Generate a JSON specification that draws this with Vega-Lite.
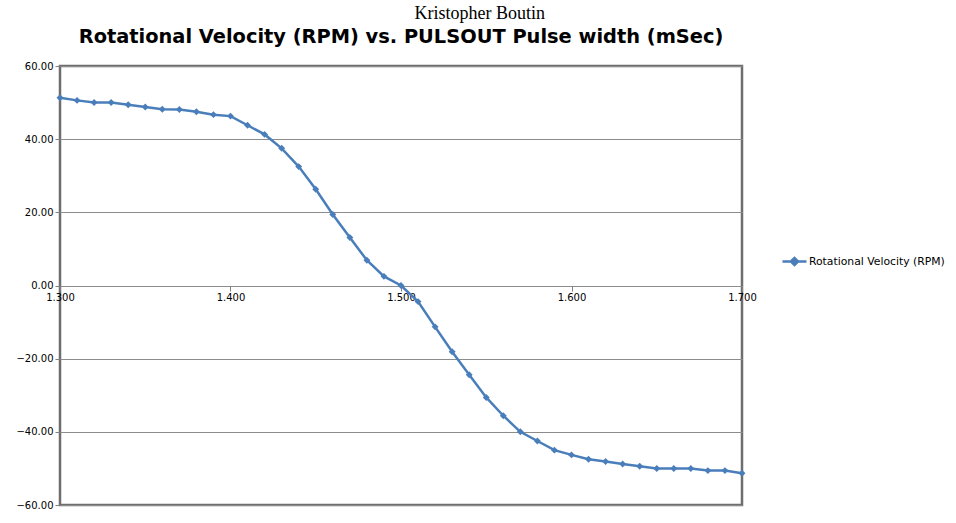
{
  "$schema": "https://vega.github.io/schema/vega-lite/v6.json",
  "background": "white",
  "padding": {"left": 14, "top": 5, "right": 5, "bottom": 5},
  "title": {"text": "Kristopher Boutin", "font": "Liberation Serif", "fontSize": 18, "fontWeight": "normal", "color": "#000000", "anchor": "middle", "frame": "bounds", "offset": 2},
  "config": {
    "view": {"stroke": "#6e6e6e", "strokeWidth": 2.5},
    "axis": {"labelFont": "DejaVu Sans", "labelFontSize": 10, "labelColor": "#000000"}
  },
  "data": {"values": [
    {"pw": 1.30, "rpm": 51.3, "s": "Rotational Velocity (RPM)"},
    {"pw": 1.31, "rpm": 50.6, "s": "Rotational Velocity (RPM)"},
    {"pw": 1.32, "rpm": 50.0, "s": "Rotational Velocity (RPM)"},
    {"pw": 1.33, "rpm": 50.0, "s": "Rotational Velocity (RPM)"},
    {"pw": 1.34, "rpm": 49.4, "s": "Rotational Velocity (RPM)"},
    {"pw": 1.35, "rpm": 48.8, "s": "Rotational Velocity (RPM)"},
    {"pw": 1.36, "rpm": 48.2, "s": "Rotational Velocity (RPM)"},
    {"pw": 1.37, "rpm": 48.1, "s": "Rotational Velocity (RPM)"},
    {"pw": 1.38, "rpm": 47.5, "s": "Rotational Velocity (RPM)"},
    {"pw": 1.39, "rpm": 46.7, "s": "Rotational Velocity (RPM)"},
    {"pw": 1.40, "rpm": 46.3, "s": "Rotational Velocity (RPM)"},
    {"pw": 1.41, "rpm": 43.8, "s": "Rotational Velocity (RPM)"},
    {"pw": 1.42, "rpm": 41.3, "s": "Rotational Velocity (RPM)"},
    {"pw": 1.43, "rpm": 37.5, "s": "Rotational Velocity (RPM)"},
    {"pw": 1.44, "rpm": 32.5, "s": "Rotational Velocity (RPM)"},
    {"pw": 1.45, "rpm": 26.3, "s": "Rotational Velocity (RPM)"},
    {"pw": 1.46, "rpm": 19.4, "s": "Rotational Velocity (RPM)"},
    {"pw": 1.47, "rpm": 13.1, "s": "Rotational Velocity (RPM)"},
    {"pw": 1.48, "rpm": 6.9, "s": "Rotational Velocity (RPM)"},
    {"pw": 1.49, "rpm": 2.5, "s": "Rotational Velocity (RPM)"},
    {"pw": 1.50, "rpm": 0.0, "s": "Rotational Velocity (RPM)"},
    {"pw": 1.51, "rpm": -4.4, "s": "Rotational Velocity (RPM)"},
    {"pw": 1.52, "rpm": -11.3, "s": "Rotational Velocity (RPM)"},
    {"pw": 1.53, "rpm": -18.1, "s": "Rotational Velocity (RPM)"},
    {"pw": 1.54, "rpm": -24.4, "s": "Rotational Velocity (RPM)"},
    {"pw": 1.55, "rpm": -30.6, "s": "Rotational Velocity (RPM)"},
    {"pw": 1.56, "rpm": -35.6, "s": "Rotational Velocity (RPM)"},
    {"pw": 1.57, "rpm": -40.0, "s": "Rotational Velocity (RPM)"},
    {"pw": 1.58, "rpm": -42.5, "s": "Rotational Velocity (RPM)"},
    {"pw": 1.59, "rpm": -45.0, "s": "Rotational Velocity (RPM)"},
    {"pw": 1.60, "rpm": -46.3, "s": "Rotational Velocity (RPM)"},
    {"pw": 1.61, "rpm": -47.5, "s": "Rotational Velocity (RPM)"},
    {"pw": 1.62, "rpm": -48.1, "s": "Rotational Velocity (RPM)"},
    {"pw": 1.63, "rpm": -48.8, "s": "Rotational Velocity (RPM)"},
    {"pw": 1.64, "rpm": -49.4, "s": "Rotational Velocity (RPM)"},
    {"pw": 1.65, "rpm": -50.0, "s": "Rotational Velocity (RPM)"},
    {"pw": 1.66, "rpm": -50.0, "s": "Rotational Velocity (RPM)"},
    {"pw": 1.67, "rpm": -50.0, "s": "Rotational Velocity (RPM)"},
    {"pw": 1.68, "rpm": -50.6, "s": "Rotational Velocity (RPM)"},
    {"pw": 1.69, "rpm": -50.6, "s": "Rotational Velocity (RPM)"},
    {"pw": 1.70, "rpm": -51.3, "s": "Rotational Velocity (RPM)"}
  ]},
  "vconcat": [
    {
      "width": 682,
      "height": 439,
      "title": {"text": "Rotational Velocity (RPM) vs. PULSOUT Pulse width (mSec)", "font": "DejaVu Sans", "fontSize": 19.4, "fontWeight": "bold", "color": "#000000", "anchor": "middle", "frame": "group", "offset": 14},
      "mark": {"type": "line", "strokeWidth": 2.5, "point": {"shape": "diamond", "size": 48, "filled": true}},
      "encoding": {
        "x": {"field": "pw", "type": "quantitative", "scale": {"domain": [1.3, 1.7], "nice": false, "zero": false},
          "axis": {"title": null, "values": [1.3, 1.4, 1.5, 1.6, 1.7], "format": ".3f", "grid": false, "domain": false, "offset": -219, "tickColor": "#808080", "tickSize": 5, "labelPadding": 1, "labelFlush": false}},
        "y": {"field": "rpm", "type": "quantitative", "scale": {"domain": [-60, 60], "nice": false},
          "axis": {"title": null, "values": [-60, -40, -20, 0, 20, 40, 60], "format": ".2f", "grid": true, "gridColor": "#8c8c8c", "gridWidth": 1, "domain": false, "tickColor": "#808080", "tickSize": 5, "labelPadding": 2}},
        "color": {"field": "s", "type": "nominal", "scale": {"range": ["#4a7ebb"]},
          "legend": {"title": null, "labelFont": "DejaVu Sans", "labelFontSize": 10.8, "labelColor": "#000000", "symbolType": "M-1,0H1M-0.3,0L0,-0.3L0.3,0L0,0.3Z", "symbolStrokeWidth": 2.5, "symbolSize": 576, "symbolFillColor": "#4a7ebb", "symbolStrokeColor": "#4a7ebb", "orient": "none", "legendX": 721, "legendY": 182, "labelOffset": 1}}
      }
    }
  ]
}
